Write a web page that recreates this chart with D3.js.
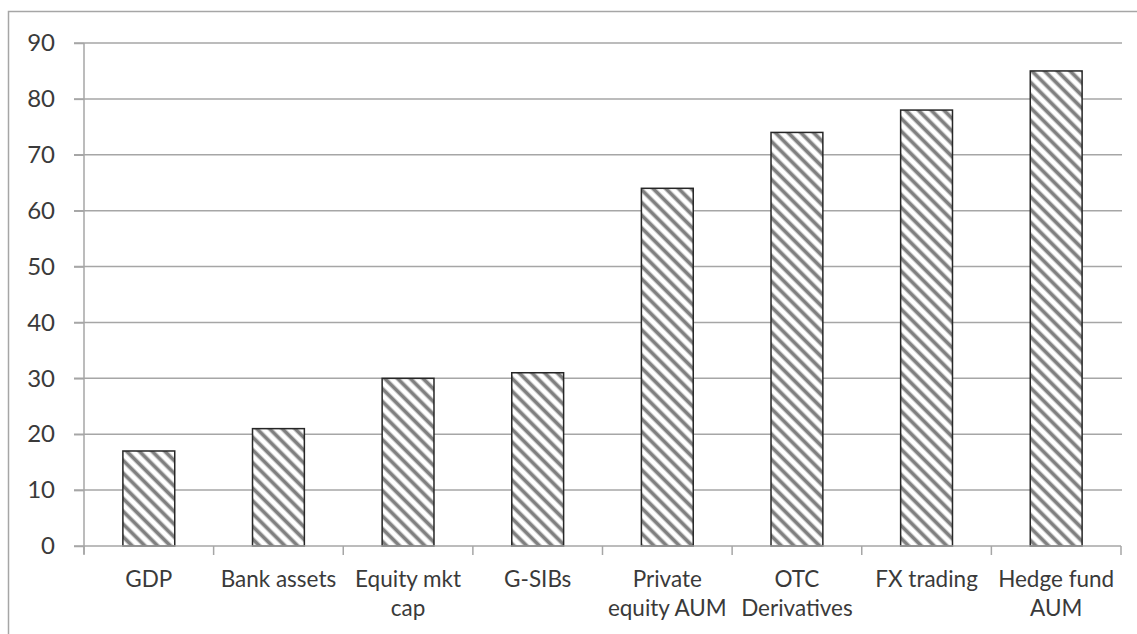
<!DOCTYPE html>
<html>
<head>
<meta charset="utf-8">
<script src="https://cdn.jsdelivr.net/npm/d3@7"></script>
<style>
  html, body { margin: 0; padding: 0; background: #fff; }
  svg { display: block; }
</style>
</head>
<body>
<svg id="chart" width="1137" height="634"></svg>
<script>
const categories = [
  ["GDP"],
  ["Bank assets"],
  ["Equity mkt", "cap"],
  ["G-SIBs"],
  ["Private", "equity AUM"],
  ["OTC", "Derivatives"],
  ["FX trading"],
  ["Hedge fund", "AUM"]
];
const values = [17, 21, 30, 31, 64, 74, 78, 85];
const yTicks = [0, 10, 20, 30, 40, 50, 60, 70, 80, 90];

(function () {
const svg = d3.select("#chart");
const W = 1137, H = 634;
const mLeft = 84, mRight = 1121, mTop = 43, mBottom = 546;

// outer border
svg.append("rect")
  .attr("x", 8.5).attr("y", 11.5)
  .attr("width", W).attr("height", H)
  .attr("fill", "none").attr("stroke", "#a6a6a6").attr("stroke-width", 1.5);

// hatch pattern
const defs = svg.append("defs");
const pat = defs.append("pattern")
  .attr("id", "hatch")
  .attr("patternUnits", "userSpaceOnUse")
  .attr("width", 9).attr("height", 9)
  .attr("patternTransform", "rotate(-45)");
pat.append("rect").attr("width", 9).attr("height", 9).attr("fill", "#fff");
pat.append("line")
  .attr("x1", 4.5).attr("y1", 0).attr("x2", 4.5).attr("y2", 9)
  .attr("stroke", "#808080").attr("stroke-width", 3.8);

const x = d3.scaleBand()
  .domain(categories.map((d, i) => i))
  .range([mLeft, mRight])
  .paddingInner(0.6)
  .paddingOuter(0.3);

const y = d3.scaleLinear().domain([0, 90]).range([mBottom, mTop]);

// gridlines
svg.append("g")
  .selectAll("line")
  .data(yTicks.filter(d => d > 0))
  .join("line")
  .attr("x1", mLeft - 10).attr("x2", mRight + 1)
  .attr("y1", d => y(d)).attr("y2", d => y(d))
  .attr("stroke", "#a6a6a6").attr("stroke-width", 1.5);

// y axis
const yAxis = svg.append("g")
  .attr("transform", `translate(${mLeft},0)`)
  .call(d3.axisLeft(y).tickValues(yTicks).tickSize(10).tickPadding(19).tickSizeOuter(0));
yAxis.select(".domain").attr("stroke", "#a6a6a6").attr("stroke-width", 1.5)
  .attr("d", `M0,${mTop}V${mBottom + 8}`);
yAxis.selectAll(".tick line").attr("stroke", "#a6a6a6").attr("stroke-width", 1.5);
yAxis.selectAll(".tick text")
  .attr("font-family", "Lato, 'Open Sans', sans-serif")
  .attr("font-size", 24)
  .attr("fill", "#3a3a3a");

// bars
svg.append("g")
  .selectAll("rect")
  .data(values)
  .join("rect")
  .attr("x", (d, i) => x(i))
  .attr("width", x.bandwidth())
  .attr("y", d => y(d))
  .attr("height", d => y(0) - y(d))
  .attr("fill", "url(#hatch)")
  .attr("stroke", "#262626")
  .attr("stroke-width", 1.5);

// x axis
const step = x.step();
const boundaries = d3.range(categories.length + 1).map(i => mLeft + i * step);
svg.append("line")
  .attr("x1", mLeft - 10).attr("x2", mRight)
  .attr("y1", mBottom).attr("y2", mBottom)
  .attr("stroke", "#a6a6a6").attr("stroke-width", 1.5);
svg.append("g")
  .selectAll("line")
  .data(boundaries)
  .join("line")
  .attr("x1", d => d).attr("x2", d => d)
  .attr("y1", mBottom).attr("y2", mBottom + 9)
  .attr("stroke", "#a6a6a6").attr("stroke-width", 1.5);

// x labels
const labels = svg.append("g")
  .selectAll("text")
  .data(categories)
  .join("text")
  .attr("x", (d, i) => x(i) + x.bandwidth() / 2)
  .attr("y", 587)
  .attr("text-anchor", "middle")
  .attr("font-family", "Lato, 'Open Sans', sans-serif")
  .attr("font-size", 22.5)
  .attr("fill", "#3a3a3a");
labels.each(function(d) {
  const t = d3.select(this);
  d.forEach((line, k) => {
    t.append("tspan")
      .attr("x", t.attr("x"))
      .attr("dy", k === 0 ? 0 : 29)
      .text(line);
  });
});
})();
</script>
</body>
</html>
